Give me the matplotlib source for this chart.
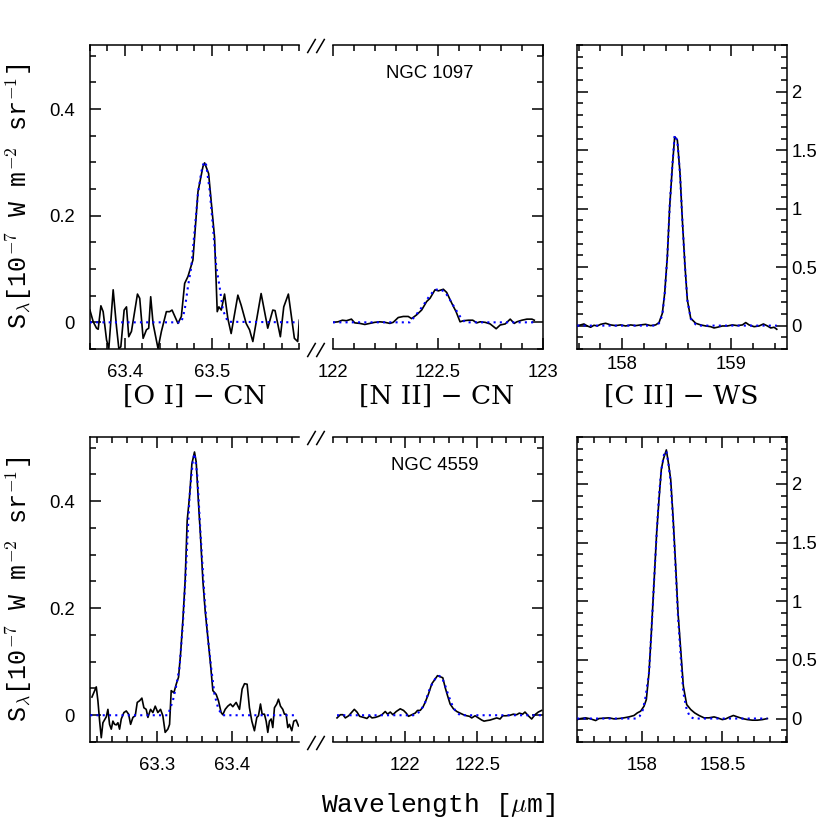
import matplotlib
matplotlib.use("Agg")
import matplotlib.pyplot as plt
from matplotlib.ticker import FixedLocator, MultipleLocator, FuncFormatter
from matplotlib.lines import Line2D

# ---------------- DATA ----------------
# NGC 1097  [O I] 63 um
wl_oi_1097 = [63.3599, 63.3637, 63.3675, 63.3694, 63.3725, 63.3751, 63.3790, 63.3816, 63.3866, 63.3904,
              63.3931, 63.3954, 63.3992, 63.4019, 63.4045, 63.4076, 63.4145, 63.4171, 63.4210, 63.4248,
              63.4274, 63.4297, 63.4324, 63.4381, 63.4420, 63.4477, 63.4515, 63.4542, 63.4610, 63.4649,
              63.4687, 63.4725, 63.4782, 63.4840, 63.4897, 63.4916, 63.4962, 63.5030, 63.5061, 63.5080,
              63.5107, 63.5145, 63.5183, 63.5221, 63.5298, 63.5336, 63.5393, 63.5432, 63.5470, 63.5565,
              63.5641, 63.5699, 63.5725, 63.5786, 63.5825, 63.5878, 63.5947, 63.5985, 63.6004]
s_oi_1097 = [0.023, 0.001, -0.011, -0.013, 0.031, 0.020, -0.033, -0.049, 0.061, -0.008,
             -0.049, -0.046, 0.023, 0.029, -0.027, -0.017, 0.053, 0.045, -0.030, -0.014,
             -0.011, 0.048, -0.002, -0.049, -0.017, 0.020, 0.020, 0.023, -0.002, 0.011,
             0.073, 0.086, 0.117, 0.245, 0.292, 0.299, 0.279, 0.160, 0.020, 0.029,
             0.023, 0.053, 0.007, -0.021, 0.051, 0.032, -0.002, -0.014, -0.036, 0.054,
             -0.011, 0.023, 0.022, -0.027, 0.029, 0.053, -0.030, -0.036, 0.004]
fwl_oi_1097 = [63.3599, 63.4649, 63.4687, 63.4725, 63.4763, 63.4802, 63.4840, 63.4878, 63.4908, 63.4935,
               63.4974, 63.5012, 63.5050, 63.5088, 63.5126, 63.5183, 63.6004]
fit_oi_1097 = [0.0, 0.0, 0.023, 0.067, 0.104, 0.173, 0.242, 0.282, 0.301, 0.295,
               0.248, 0.179, 0.104, 0.067, 0.023, 0.001, 0.0]

# NGC 1097  [N II] 122 um
wl_nii_1097 = [122.0001, 122.0240, 122.0447, 122.0638, 122.0877, 122.1036, 122.1275, 122.1514, 122.1753, 122.1991,
               122.2230, 122.2469, 122.2708, 122.2867, 122.3106, 122.3345, 122.3583, 122.3743, 122.3981, 122.4220,
               122.4459, 122.4618, 122.4857, 122.5017, 122.5255, 122.5414, 122.5653, 122.5860, 122.6051, 122.6210,
               122.6449, 122.6656, 122.6847, 122.7006, 122.7245, 122.7484, 122.7643, 122.7770, 122.7961, 122.8200,
               122.8439, 122.8630, 122.8757, 122.8996, 122.9235, 122.9474, 122.9585]
s_nii_1097 = [0.0, 0.001, 0.004, 0.003, 0.006, -0.001, -0.002, -0.004, -0.002, 0.0,
              0.001, 0.0, -0.002, 0.0, 0.009, 0.011, 0.011, 0.007, 0.014, 0.023,
              0.039, 0.045, 0.061, 0.059, 0.062, 0.056, 0.036, 0.020, 0.001, 0.003,
              0.004, 0.004, -0.001, 0.001, 0.0, -0.003, -0.008, -0.012, -0.005, -0.003,
              0.006, -0.002, 0.001, 0.004, 0.006, 0.006, 0.004]
fwl_nii_1097 = [122.0001, 122.3663, 122.4013, 122.4300, 122.4618, 122.4857, 122.5096, 122.5334, 122.5573,
                122.5812, 122.6051, 122.6290, 122.9585]
fit_nii_1097 = [0.0, 0.0, 0.017, 0.032, 0.051, 0.061, 0.062, 0.057, 0.042, 0.026, 0.011, 0.0, 0.0]

# NGC 1097  [C II] 158 um
wl_cii_1097 = [157.5875, 157.6181, 157.6486, 157.6792, 157.7098, 157.7404, 157.7710, 157.8015, 157.8474, 157.8933,
               157.9391, 157.9850, 158.0309, 158.0768, 158.1226, 158.1685, 158.2144, 158.2602, 158.3061, 158.3367,
               158.3673, 158.3887, 158.4130, 158.4345, 158.4590, 158.4804, 158.5049, 158.5293, 158.5507, 158.5752,
               158.5966, 158.6272, 158.6731, 158.7189, 158.7648, 158.8107, 158.8413, 158.8718, 158.9177, 158.9636,
               159.0095, 159.0553, 159.1012, 159.1318, 159.1624, 159.2083, 159.2541, 159.2939, 159.3306, 159.3611,
               159.3917, 159.4162]
s_cii_1097 = [0.0, 0.006, 0.014, -0.003, -0.014, 0.003, -0.003, 0.011, 0.020, 0.006,
              0.0, 0.006, -0.003, 0.006, 0.0, 0.006, 0.011, 0.0, 0.006, 0.026,
              0.105, 0.276, 0.590, 1.017, 1.359, 1.615, 1.587, 1.302, 0.903, 0.504,
              0.219, 0.063, 0.020, 0.006, -0.003, -0.009, -0.020, -0.014, -0.003, -0.003,
              0.006, 0.0, 0.006, 0.026, 0.006, -0.009, -0.003, 0.014, -0.003, -0.020,
              -0.014, -0.031]
fwl_cii_1097 = [157.5875, 158.3061, 158.3367, 158.3673, 158.3887, 158.4130, 158.4345, 158.4590, 158.4804,
                158.5049, 158.5293, 158.5507, 158.5752, 158.5966, 158.6272, 158.6731, 158.7189, 159.4162]
fit_cii_1097 = [0.0, 0.0, 0.02, 0.09, 0.27, 0.59, 1.02, 1.37, 1.63,
                1.58, 1.30, 0.90, 0.50, 0.22, 0.06, 0.01, 0.0, 0.0]

# NGC 4559  [O I] 63 um
wl_oi_4559 = [63.2126, 63.2184, 63.2206, 63.2229, 63.2251, 63.2273, 63.2318, 63.2340, 63.2362, 63.2385,
              63.2407, 63.2429, 63.2452, 63.2474, 63.2496, 63.2519, 63.2554, 63.2586, 63.2617, 63.2644,
              63.2675, 63.2706, 63.2733, 63.2764, 63.2795, 63.2822, 63.2853, 63.2876, 63.2911, 63.2942,
              63.2974, 63.3009, 63.3045, 63.3076, 63.3107, 63.3143, 63.3166, 63.3188, 63.3224, 63.3255,
              63.3286, 63.3313, 63.3344, 63.3375, 63.3402, 63.3433, 63.3465, 63.3500, 63.3523, 63.3554,
              63.3581, 63.3612, 63.3643, 63.3679, 63.3714, 63.3746, 63.3790, 63.3821, 63.3857, 63.3879,
              63.3911, 63.3946, 63.3982, 63.4013, 63.4058, 63.4103, 63.4138, 63.4170, 63.4205, 63.4236,
              63.4268, 63.4303, 63.4335, 63.4357, 63.4384, 63.4406, 63.4437, 63.4460, 63.4482, 63.4504,
              63.4527, 63.4549, 63.4571, 63.4602, 63.4625, 63.4652, 63.4683, 63.4705, 63.4727, 63.4750,
              63.4772, 63.4803, 63.4830, 63.4862, 63.4893]
s_oi_4559 = [0.034, 0.053, 0.027, -0.011, -0.042, -0.014, -0.003, 0.011, -0.017, -0.026,
             -0.011, -0.017, -0.018, -0.014, -0.026, -0.007, 0.005, 0.008, 0.002, -0.017,
             -0.004, -0.001, 0.024, 0.027, 0.032, 0.014, 0.011, -0.004, 0.011, 0.005,
             0.017, 0.005, 0.011, -0.001, -0.032, -0.026, -0.017, 0.046, 0.042, 0.058,
             0.071, 0.114, 0.177, 0.252, 0.364, 0.408, 0.470, 0.492, 0.473, 0.395,
             0.333, 0.252, 0.195, 0.145, 0.096, 0.046, 0.039, 0.027, 0.005, 0.001,
             0.011, 0.017, 0.021, 0.016, 0.024, 0.011, 0.049, 0.059, 0.058, 0.014,
             -0.011, -0.029, -0.004, -0.001, 0.021, 0.002, 0.002, -0.011, -0.032, -0.011,
             -0.007, -0.023, 0.014, 0.021, 0.030, 0.017, 0.011, 0.002, 0.002, -0.023,
             -0.017, -0.029, -0.011, -0.009, -0.020]
fwl_oi_4559 = [63.2103, 63.3143, 63.3210, 63.3255, 63.3299, 63.3344, 63.3389, 63.3433, 63.3478, 63.3500,
               63.3536, 63.3581, 63.3634, 63.3679, 63.3723, 63.3768, 63.3821, 63.3879, 63.4885]
fit_oi_4559 = [0.0, 0.0, 0.027, 0.055, 0.089, 0.170, 0.283, 0.408, 0.476, 0.489,
               0.451, 0.339, 0.220, 0.145, 0.089, 0.039, 0.011, 0.0, 0.0]

# NGC 4559  [N II] 122 um
wl_nii_4559 = [121.5278, 121.5508, 121.5692, 121.5854, 121.6084, 121.6245, 121.6476, 121.6660, 121.6844, 121.7121,
               121.7351, 121.7535, 121.7697, 121.7927, 121.8157, 121.8388, 121.8618, 121.8779, 121.8964, 121.9148,
               121.9378, 121.9655, 121.9885, 122.0069, 122.0230, 122.0461, 122.0691, 122.0852, 122.1037, 122.1221,
               122.1382, 122.1613, 122.1843, 122.2004, 122.2235, 122.2419, 122.2603, 122.2764, 122.2926, 122.3110,
               122.3340, 122.3571, 122.3801, 122.4031, 122.4262, 122.4446, 122.4607, 122.4838, 122.5068, 122.5298,
               122.5460, 122.5644, 122.5874, 122.6105, 122.6335, 122.6565, 122.6750, 122.6980, 122.7256, 122.7487,
               122.7717, 122.7901, 122.8132, 122.8293, 122.8523, 122.8754, 122.8984, 122.9215, 122.9445]
s_nii_4559 = [-0.005, 0.001, 0.001, -0.005, -0.001, 0.004, 0.011, 0.006, -0.002, -0.004,
              -0.006, -0.001, -0.005, -0.004, -0.002, 0.001, 0.007, 0.002, 0.006, 0.001,
              0.007, 0.012, 0.009, 0.004, -0.002, 0.001, 0.004, 0.009, 0.009, 0.015,
              0.024, 0.040, 0.059, 0.065, 0.074, 0.072, 0.070, 0.052, 0.037, 0.021,
              0.012, 0.007, 0.004, 0.001, -0.001, -0.002, -0.005, -0.001, -0.005, -0.009,
              -0.011, -0.010, -0.009, -0.007, -0.005, -0.007, -0.001, -0.001, 0.0, 0.002,
              0.001, 0.004, 0.002, 0.006, -0.001, -0.007, 0.001, 0.006, 0.009]
fwl_nii_4559 = [121.5278, 122.0576, 122.1037, 122.1382, 122.1728, 122.2073, 122.2304, 122.2534, 122.2764,
                122.2995, 122.3225, 122.3455, 122.3801, 122.9445]
fit_nii_4559 = [0.0, 0.0, 0.007, 0.024, 0.052, 0.068, 0.074, 0.071, 0.056, 0.037, 0.021, 0.009, 0.0, 0.0]

# NGC 4559  [C II] 158 um
wl_cii_4559 = [157.5939, 157.6148, 157.6460, 157.6773, 157.7085, 157.7293, 157.7606, 157.7918, 157.8231, 157.8543,
               157.8856, 157.9168, 157.9481, 157.9689, 157.9898, 158.0106, 158.0252, 158.0418, 158.0564, 158.0731,
               158.0898, 158.1043, 158.1189, 158.1314, 158.1502, 158.1627, 158.1773, 158.1918, 158.2085, 158.2231,
               158.2398, 158.2564, 158.2773, 158.3023, 158.3273, 158.3544, 158.3856, 158.4169, 158.4481, 158.4690,
               158.5002, 158.5210, 158.5419, 158.5689, 158.5939, 158.6252, 158.6564, 158.6877, 158.7189, 158.7502,
               158.7814]
s_cii_4559 = [-0.009, 0.0, 0.006, -0.003, -0.017, 0.0, 0.003, 0.006, -0.003, 0.0,
              0.006, 0.014, 0.026, 0.048, 0.063, 0.105, 0.162, 0.390, 0.731, 1.158,
              1.584, 1.869, 2.125, 2.210, 2.290, 2.181, 2.039, 1.726, 1.300, 0.902,
              0.589, 0.276, 0.119, 0.077, 0.048, 0.026, 0.006, 0.006, 0.014, 0.006,
              -0.009, -0.003, 0.011, 0.026, 0.014, 0.0, -0.009, -0.014, -0.014, -0.009,
              0.0]
fwl_cii_4559 = [157.5939, 157.9585, 157.9835, 158.0043, 158.0210, 158.0418, 158.0564, 158.0731, 158.0898,
                158.1043, 158.1189, 158.1356, 158.1502, 158.1627, 158.1773, 158.1918, 158.2085, 158.2231,
                158.2398, 158.2564, 158.2773, 158.2981, 158.3231, 158.7814]
fit_cii_4559 = [0.0, 0.0, 0.020, 0.077, 0.19, 0.39, 0.73, 1.16, 1.58,
                1.90, 2.12, 2.25, 2.28, 2.18, 2.01, 1.70, 1.27, 0.87,
                0.53, 0.22, 0.077, 0.014, 0.0, 0.0]

line_labels = ["[O I] \u2212 CN", "[N II] \u2212 CN", "[C II] \u2212 WS"]
galaxies = ["NGC 1097", "NGC 4559"]
ylabel_text = r"S$_\lambda$[10$^{-7}$ W m$^{-2}$ sr$^{-1}$]"
xlabel_text = r"Wavelength [$\mu$m]"

# ---------------- FIGURE ----------------
plt.rcParams['font.family'] = ['Liberation Sans', 'DejaVu Sans']
plt.rcParams['mathtext.fontset'] = 'cm'

W = H = 830.0
fig = plt.figure(figsize=(8.3, 8.3), dpi=100)

def fx(px):
    return px / W

def fy(py):
    return 1.0 - py / H

def add_ax(x0, x1, y0, y1):
    return fig.add_axes([fx(x0), fy(y1), fx(x1) - fx(x0), (y1 - y0) / H])

rows = [(45, 349), (437, 742)]
cols = [(90, 299), (333, 543), (577, 787)]

fmt = FuncFormatter(lambda v, p: "%g" % round(v, 4))

panels = [
    # row 0
    dict(wl=wl_oi_1097, s=s_oi_1097, fw=fwl_oi_1097, f=fit_oi_1097, xlim=(63.36, 63.60),
         xmaj=[63.4, 63.5], xmin=0.02, kind='L'),
    dict(wl=wl_nii_1097, s=s_nii_1097, fw=fwl_nii_1097, f=fit_nii_1097, xlim=(122.0, 123.0),
         xmaj=[122.0, 122.5, 123.0], xmin=0.1, kind='M'),
    dict(wl=wl_cii_1097, s=s_cii_1097, fw=fwl_cii_1097, f=fit_cii_1097, xlim=(157.585, 159.51),
         xmaj=[158.0, 159.0], xmin=0.2, kind='R'),
    # row 1
    dict(wl=wl_oi_4559, s=s_oi_4559, fw=fwl_oi_4559, f=fit_oi_4559, xlim=(63.21, 63.49),
         xmaj=[63.3, 63.4], xmin=0.02, kind='L'),
    dict(wl=wl_nii_4559, s=s_nii_4559, fw=fwl_nii_4559, f=fit_nii_4559, xlim=(121.5, 122.954),
         xmaj=[122.0, 122.5], xmin=0.1, kind='M'),
    dict(wl=wl_cii_4559, s=s_cii_4559, fw=fwl_cii_4559, f=fit_cii_4559, xlim=(157.592, 158.904),
         xmaj=[158.0, 158.5], xmin=0.1, kind='R'),
]

axes = []
for i, p in enumerate(panels):
    r, c = divmod(i, 3)
    ax = add_ax(cols[c][0], cols[c][1], rows[r][0], rows[r][1])
    axes.append(ax)
    ax.plot(p['wl'], p['s'], color='black', lw=1.2, zorder=3)
    ax.plot(p['fw'], p['f'], color='#0000ff', lw=1.5, ls=(0, (1, 2.0)), zorder=4)
    ax.set_xlim(*p['xlim'])
    ax.xaxis.set_major_locator(FixedLocator(p['xmaj']))
    ax.xaxis.set_minor_locator(MultipleLocator(p['xmin']))
    ax.xaxis.set_major_formatter(fmt)
    if p['kind'] in ('L', 'M'):
        ax.set_ylim(-0.05, 0.52)
        ax.yaxis.set_major_locator(FixedLocator([0.0, 0.2, 0.4]))
        ax.yaxis.set_minor_locator(MultipleLocator(0.05))
    else:
        ax.set_ylim(-0.2, 2.4)
        ax.yaxis.set_major_locator(FixedLocator([0.0, 0.5, 1.0, 1.5, 2.0]))
        ax.yaxis.set_minor_locator(MultipleLocator(0.1))
    ax.yaxis.set_major_formatter(fmt)
    for sp in ax.spines.values():
        sp.set_linewidth(1.1)
    ax.tick_params(which='both', direction='in', top=True, bottom=True, width=1.1,
                   labelsize=13.3, colors='black')
    ax.tick_params(which='major', length=7.7)
    ax.tick_params(which='minor', length=4.0)
    xpad = 10.5 if not (r == 0 and p['kind'] == 'R') else 5.0
    ax.tick_params(axis='x', which='both', pad=xpad)
    if p['kind'] == 'L':
        ax.spines['right'].set_visible(False)
        ax.tick_params(axis='y', which='both', left=True, right=False,
                       labelleft=True, labelright=False, pad=11)
    elif p['kind'] == 'M':
        ax.spines['left'].set_visible(False)
        ax.tick_params(axis='y', which='both', left=False, right=True,
                       labelleft=False, labelright=False)
    else:
        ax.tick_params(axis='y', which='both', left=True, right=True,
                       labelleft=False, labelright=True, pad=3)

# line labels under the top row
label_x = [195, 437, 681]
for lx, txt in zip(label_x, line_labels):
    fig.text(fx(lx), fy(396), txt, ha='center', va='center', fontsize=19,
             family=['DejaVu Serif', 'Liberation Serif'])

# galaxy names
axes[1].text(0.46, 0.905, galaxies[0], transform=axes[1].transAxes, ha='center', va='center',
             fontsize=13.3)
axes[4].text(0.485, 0.905, galaxies[1], transform=axes[4].transAxes, ha='center', va='center',
             fontsize=13.3)

# y labels
for yc in (196, 589):
    fig.text(fx(19), fy(yc), ylabel_text, rotation=90, ha='center', va='center', fontsize=18,
             family=['Liberation Mono', 'DejaVu Sans Mono'])

# x label
fig.text(fx(438), fy(805), xlabel_text, ha='center', va='center', fontsize=19,
         family=['Liberation Mono', 'DejaVu Sans Mono'])

# axis-break marks
def brk(xc, yc):
    for dx in (-4.5, 4.5):
        fig.add_artist(Line2D([fx(xc + dx - 3.8), fx(xc + dx + 3.8)], [fy(yc + 6.5), fy(yc - 6.5)],
                              color='black', lw=1.1, transform=fig.transFigure))

for (y0, y1) in rows:
    brk(316, y0 + 1)
    brk(316, y1 + 1)

fig.savefig("out.png", dpi=100)
